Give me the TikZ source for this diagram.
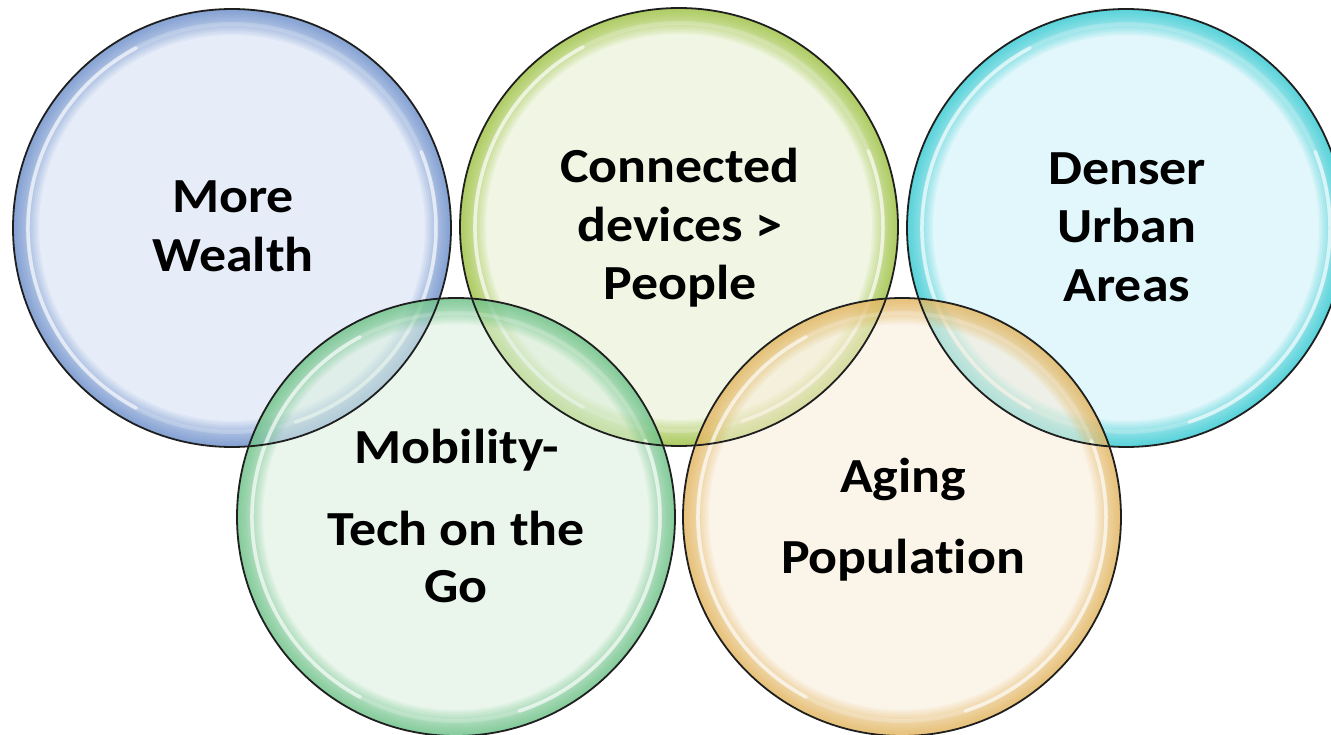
\documentclass[tikz,border=0pt]{standalone}
\usepackage{fontspec}
\setmainfont{Carlito}[FakeStretch=1.1, Ligatures=NoCommon]
\definecolor{bIn}{HTML}{D5E0F4}\definecolor{bRim}{HTML}{5A82C6}
\definecolor{yIn}{HTML}{E5F0CC}\definecolor{yRim}{HTML}{93BD28}
\definecolor{cIn}{HTML}{CAF2F8}\definecolor{cRim}{HTML}{1AC6CF}
\definecolor{gIn}{HTML}{D9EFDE}\definecolor{gRim}{HTML}{58BC78}
\definecolor{oIn}{HTML}{F9ECD7}\definecolor{oRim}{HTML}{E2AE48}
\newcommand{\bubbledraw}[3]{%
  \fill[#2, fill opacity=0.55] (#1.center) circle[radius=219pt];
  \foreach \i in {1,...,13}
    \draw[#3, line width=2*\i pt, draw opacity=0.08] (#1.center) circle[radius=219pt-\i pt];
  \draw[white, line width=4pt, draw opacity=0.18] (#1.center) circle[radius=204pt];
  \draw[white, line width=3.5pt, draw opacity=0.6, line cap=round] ([shift={(118:204pt)}]#1.center) arc[start angle=118, end angle=242, radius=204pt];
  \draw[white, line width=3.5pt, draw opacity=0.6, line cap=round] ([shift={(-72:204pt)}]#1.center) arc[start angle=-72, end angle=22, radius=204pt];
}
\tikzset{
  bubble/.style={circle, minimum size=438pt, inner sep=0pt},
  rimline/.style={draw=black!88, line width=1.8pt},
  lbl/.style={anchor=base, font=\fontsize{49}{58}\selectfont\bfseries, text=black, inner sep=0pt}
}
\begin{document}
\begin{tikzpicture}[x=1pt,y=-1pt]
\useasboundingbox (0,0) rectangle (1331,735);
\fill[white] (0,0) rectangle (1331,735);
\node[bubble] (c1) at (232,228) {};
\node[bubble] (c2) at (679,227) {};
\node[bubble] (c3) at (1126,228) {};
\node[bubble] (c4) at (456,517) {};
\node[bubble] (c5) at (902,517) {};
\bubbledraw{c1}{bIn}{bRim}
\bubbledraw{c2}{yIn}{yRim}
\bubbledraw{c3}{cIn}{cRim}
\bubbledraw{c4}{gIn}{gRim}
\bubbledraw{c5}{oIn}{oRim}
\foreach \c in {c1,c2,c3,c4,c5}
  \draw[rimline] (\c.center) circle[radius=219pt];
\node[lbl] (t1a) at (233,213) {More};
\node[lbl] (t1b) at (233,272) {Wealth};
\node[lbl] (t2a) at (680,183) {Connected};
\node[lbl] (t2b) at (680,242) {devices >};
\node[lbl] (t2c) at (680,300) {People};
\node[lbl] (t3a) at (1127,185) {Denser};
\node[lbl] (t3b) at (1127,243) {Urban};
\node[lbl] (t3c) at (1127,302) {Areas};
\node[lbl] (t4a) at (457,463) {Mobility-};
\node[lbl] (t4b) at (456,545) {Tech on the};
\node[lbl] (t4c) at (456,602) {Go};
\node[lbl] (t5a) at (903,492) {Aging};
\node[lbl] (t5b) at (903,573) {Population};
\end{tikzpicture}
\end{document}
